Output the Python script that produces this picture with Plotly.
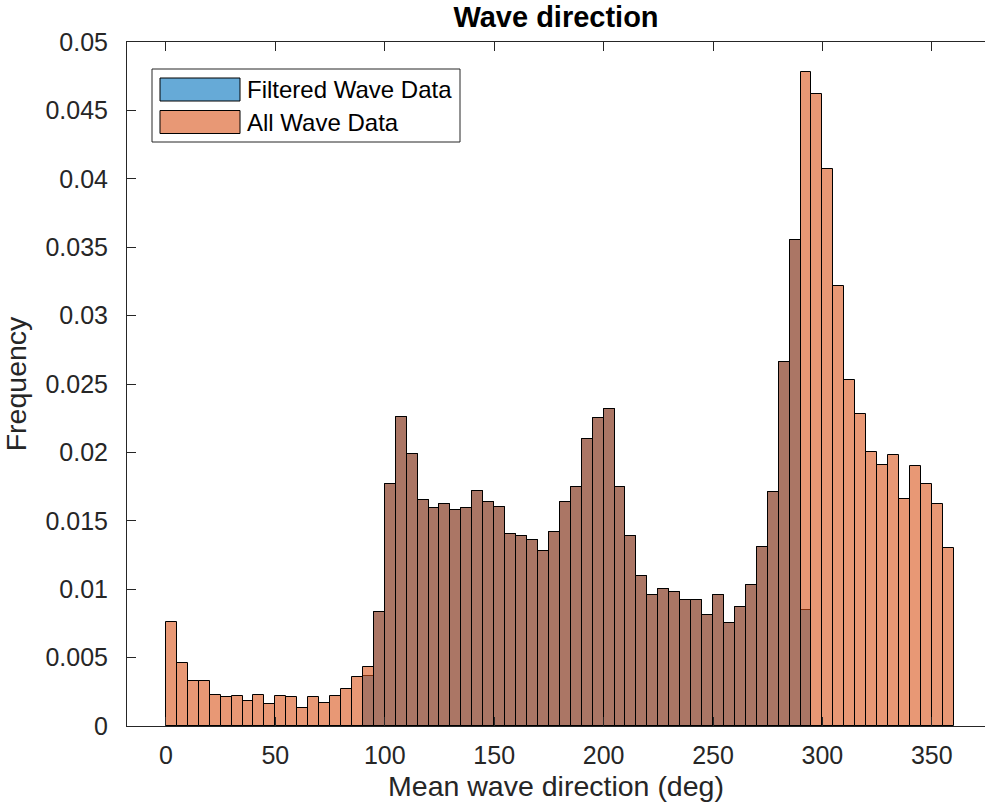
import plotly.graph_objects as go

# ---- data -------------------------------------------------------------
bin_width = 5
bin_starts = list(range(0, 360, bin_width))  # 72 bins, 0..360 deg

all_freq = [
    0.0076, 0.0046, 0.0033, 0.0033, 0.0023, 0.0021, 0.0022, 0.0018, 0.0023, 0.0016,
    0.0022, 0.0021, 0.0013, 0.0021, 0.0017, 0.0022, 0.0027, 0.0036, 0.0043, 0.0083,
    0.0177, 0.0226, 0.0199, 0.0165, 0.0159, 0.0162, 0.0158, 0.0159, 0.0172, 0.0164,
    0.0160, 0.0140, 0.0139, 0.0136, 0.0128, 0.0142, 0.0164, 0.0175, 0.0210, 0.0225,
    0.0232, 0.0175, 0.0139, 0.0110, 0.0096, 0.0100, 0.0098, 0.0092, 0.0092, 0.0081,
    0.0096, 0.0075, 0.0087, 0.0103, 0.0131, 0.0171, 0.0266, 0.0355, 0.0478, 0.0462,
    0.0407, 0.0322, 0.0253, 0.0228, 0.0200, 0.0191, 0.0198, 0.0166, 0.0190, 0.0177,
    0.0162, 0.0130,
]

filtered_freq = (
    [None] * 18
    + [0.00365, 0.0083,
       0.0177, 0.0226, 0.0199, 0.0165, 0.0159, 0.0162, 0.0158, 0.0159, 0.0172, 0.0164,
       0.0160, 0.0140, 0.0139, 0.0136, 0.0128, 0.0142, 0.0164, 0.0175, 0.0210, 0.0225,
       0.0232, 0.0175, 0.0139, 0.0110, 0.0096, 0.0100, 0.0098, 0.0092, 0.0092, 0.0081,
       0.0096, 0.0075, 0.0087, 0.0103, 0.0131, 0.0171, 0.0266, 0.0355, 0.0085]
    + [None] * 13
)

series_names = ["Filtered Wave Data", "All Wave Data"]
x_ticks = [0, 50, 100, 150, 200, 250, 300, 350]
y_ticks = [0, 0.005, 0.01, 0.015, 0.02, 0.025, 0.03, 0.035, 0.04, 0.045, 0.05]
y_tick_text = ["0", "0.005", "0.01", "0.015", "0.02", "0.025", "0.03", "0.035",
               "0.04", "0.045", "0.05"]

# ---- styling ------------------------------------------------------------
BLUE = "rgba(0,114,189,0.6)"
ORANGE = "rgba(217,83,25,0.6)"
BLUE_SOLID = "#66AAD7"
ORANGE_SOLID = "#E89875"
AX = "#262626"
FONT = "Liberation Sans, Arial, Helvetica, sans-serif"

W, H = 985, 812
L, R, T, B = 127, 0, 42, 86

centers = [s + bin_width / 2 for s in bin_starts]

def keep(vals):
    xs, ys = [], []
    for c, v in zip(centers, vals):
        if v is not None:
            xs.append(c)
            ys.append(v)
    return xs, ys

fx, fy = keep(filtered_freq)

fig = go.Figure()
fig.add_trace(go.Bar(
    x=fx, y=fy, width=bin_width, name=series_names[0],
    marker=dict(color=BLUE, line=dict(color="black", width=1)),
    showlegend=False,
))
fig.add_trace(go.Bar(
    x=centers, y=all_freq, width=bin_width, name=series_names[1],
    marker=dict(color=ORANGE, line=dict(color="black", width=1)),
    showlegend=False,
))

# ---- manual MATLAB-like legend -----------------------------------------
pw, ph = W - L - R, H - T - B
def px(x):
    return (x - L) / pw
def py(y):
    return (H - B - y) / ph

shapes = [
    dict(type="rect", xref="paper", yref="paper",
         x0=px(152), x1=px(460), y0=py(142), y1=py(69),
         line=dict(color=AX, width=1), fillcolor="white", layer="above"),
]
annotations = []
for i, (name, col) in enumerate(zip(series_names, [BLUE_SOLID, ORANGE_SOLID])):
    top = 78 + i * 32.5
    shapes.append(dict(type="rect", xref="paper", yref="paper",
                       x0=px(160), x1=px(240), y0=py(top + 23), y1=py(top),
                       line=dict(color="black", width=1), fillcolor=col, layer="above"))
    annotations.append(dict(xref="paper", yref="paper", x=px(245), y=py(top + 11.5),
                            text=name, showarrow=False, xanchor="left", yanchor="middle",
                            font=dict(family=FONT, size=24, color="black")))

fig.update_layout(
    width=W, height=H,
    margin=dict(l=L, r=R, t=T, b=B, pad=0),
    paper_bgcolor="white", plot_bgcolor="white",
    barmode="overlay", bargap=0,
    font=dict(family=FONT, size=25, color=AX),
    title=dict(text="<b>Wave direction</b>", x=(L + (W - R)) / 2 / W, xanchor="center",
               y=1 - 17 / H, yanchor="middle",
               font=dict(family=FONT, size=29, color="black")),
    shapes=shapes, annotations=annotations,
    xaxis=dict(
        range=[-17.8, 374.3], tickvals=x_ticks, ticks="inside", ticklen=9,
        tickcolor=AX, showline=True, linecolor=AX, linewidth=1, mirror="ticks",
        showgrid=False, zeroline=False, tickfont=dict(size=25, color=AX),
        ticklabelstandoff=7,
        title=dict(text="Mean wave direction (deg)", font=dict(size=28.5, color=AX), standoff=8),
    ),
    yaxis=dict(
        range=[0, 0.05], tickvals=y_ticks, ticktext=y_tick_text, ticks="inside",
        ticklen=9, tickcolor=AX, showline=True, linecolor=AX, linewidth=1,
        showgrid=False, zeroline=False, tickfont=dict(size=25, color=AX),
        ticklabelstandoff=13,
        title=dict(text="Frequency", font=dict(size=28.5, color=AX), standoff=10),
    ),
)

fig.write_html("out.html")
